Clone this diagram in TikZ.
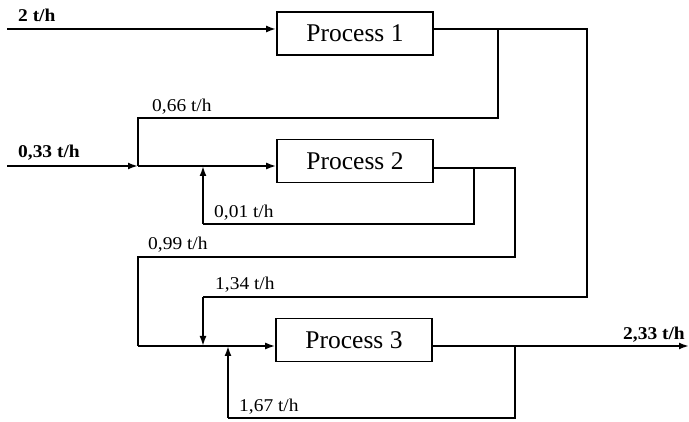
\documentclass[tikz,border=0pt]{standalone}
\usepackage{fontspec}
\setmainfont{Liberation Serif}
\newfontfamily\lblfont{Liberation Serif}[FakeStretch=1.08]
\usetikzlibrary{arrows.meta}
\tikzset{
  procbox/.style={draw, line width=1.6pt, minimum width=156pt, minimum height=43pt, inner sep=0pt,
    font=\fontsize{25.5pt}{28pt}\selectfont},
  flow/.style={line width=1.8pt},
  mainflow/.style={line width=2.8pt},
  tip/.style={-{Latex[length=10pt,width=7pt]}},
  lbl/.style={anchor=base west, inner sep=0pt, font=\lblfont\fontsize{18pt}{20pt}\selectfont},
  blbl/.style={lbl, font=\lblfont\bfseries\fontsize{18pt}{20pt}\selectfont},
}
\begin{document}
\begin{tikzpicture}[x=1pt,y=-1pt]
\useasboundingbox (0,0) rectangle (689,422);
% boxes
\node[procbox] (P1) at (355,33.5) {Process 1};
\node[procbox] (P2) at (355,161) {Process 2};
\node[procbox] (P3) at (354,340) {Process 3};
% coordinates
\coordinate (in1) at (7,29);
\coordinate (s1) at (498,29);
\coordinate (c1) at (587,29);
\coordinate (c1b) at (587,297);
\coordinate (c1c) at (203,297);
\coordinate (s1b) at (498,118);
\coordinate (s1c) at (138,118);
\coordinate (in2) at (7,166);
\coordinate (m2) at (138,166);
\coordinate (r2) at (203,166);
\coordinate (o2) at (433,168);
\coordinate (s2) at (474,168);
\coordinate (s2b) at (474,224);
\coordinate (s2c) at (203,224);
\coordinate (c2) at (515,168);
\coordinate (c2b) at (515,257);
\coordinate (c2c) at (138,257);
\coordinate (m3) at (138,346);
\coordinate (a3) at (203,346);
\coordinate (b3) at (228,346);
\coordinate (s3) at (515,346);
\coordinate (s3b) at (515,418);
\coordinate (s3c) at (228,418);
\coordinate (out3) at (689,346);
% flows
\draw[mainflow, tip] (in1) -- (P1.west |- in1);
\draw[flow] (P1.east |- in1) -- (c1) -- (c1b) -- (c1c);
\draw[flow, tip] (c1c) -- (a3);
\draw[flow] (s1) -- (s1b) -- (s1c) -- (m2);
\draw[mainflow, tip] (in2) -- (m2);
\draw[flow, tip] (m2) -- (P2.west |- m2);
\draw[flow] (P2.east |- o2) -- (c2) -- (c2b) -- (c2c) -- (m3);
\draw[flow] (s2) -- (s2b) -- (s2c);
\draw[flow, tip] (s2c) -- (r2);
\draw[flow, tip] (m3) -- (P3.west |- m3);
\draw[line width=2.2pt, tip] (P3.east |- m3) -- (out3);
\draw[flow] (s3) -- (s3b) -- (s3c);
\draw[flow, tip] (s3c) -- (b3);
% labels
\node[blbl] (L1) at (18,22) {2 t/h};
\node[lbl] (L2) at (152,112) {0,66 t/h};
\node[blbl] (L3) at (18,158) {0,33 t/h};
\node[lbl] (L4) at (214,218) {0,01 t/h};
\node[lbl] (L5) at (148,250) {0,99 t/h};
\node[lbl] (L6) at (215,290) {1,34 t/h};
\node[lbl] (L7) at (239,411) {1,67 t/h};
\node[blbl] (L8) at (623,340) {2,33 t/h};
\end{tikzpicture}
\end{document}
